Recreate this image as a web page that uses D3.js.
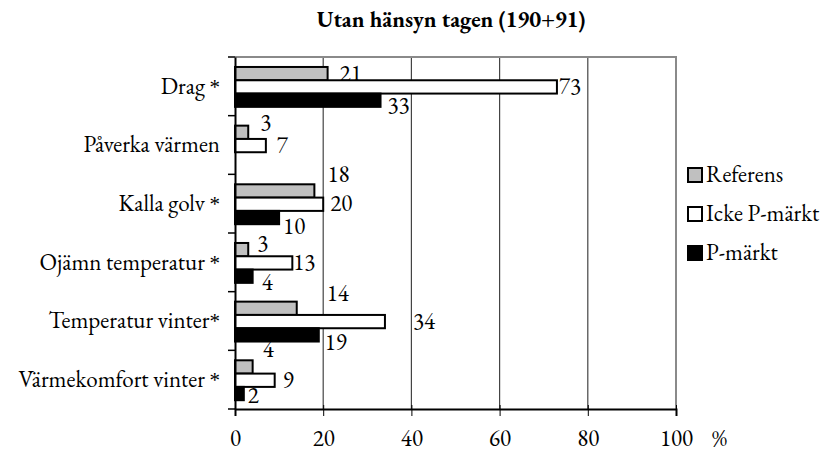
<!DOCTYPE html>
<html>
<head>
<meta charset="utf-8">
<script src="https://cdn.jsdelivr.net/npm/d3@7"></script>
<style>
  body { margin: 0; background: #fff; }
</style>
</head>
<body>
<div id="chart"></div>
<script>
// chart data
var categories = ["Drag *", "Påverka värmen", "Kalla golv *", "Ojämn temperatur *", "Temperatur vinter*", "Värmekomfort vinter *"];
var seriesNames = ["Referens", "Icke P-märkt", "P-märkt"];
var referens = [21, 3, 18, 3, 14, 4];
var ickePmarkt = [73, 7, 20, 13, 34, 9];
var pmarkt = [33, null, 10, 4, 19, 2];
var xTicks = [0, 20, 40, 60, 80, 100];

// label nudges (the original had hand placed labels), [dx, dy] per series/category
var labelNudge = [
    [[12, 0], [12, -10], [13, -16], [9, -6], [30, -15], [10, -17]],
    [[2, 0], [11, 0], [7, -1], [1, 0], [28, 0], [8, 0]],
    [[7, 5], [0, 0], [4, 9], [9, 6], [6, 8], [4, 2]]
];

const W = 827, H = 453;
const plot = {left: 235, right: 676, top: 57, bottom: 409};
const FONT = "EB Garamond, Liberation Serif, serif";
const FS = 23;
var fills = ["#c0c0c0", "#ffffff", "#000000"];
var allSeries = [referens, ickePmarkt, pmarkt];

var svg = d3.select("#chart").append("svg")
    .attr("width", W)
    .attr("height", H)
    .attr("font-family", FONT);

var xScale = d3.scaleLinear().domain([0, 100]).range([plot.left, plot.right]);
var yScale = d3.scaleBand().domain(categories).range([plot.top, plot.bottom]);
var step = yScale.step();
var subScale = d3.scaleBand().domain(d3.range(3)).range([step * 0.17, step * 0.85]);

// title
svg.append("text")
    .attr("x", 451)
    .attr("y", 27)
    .attr("text-anchor", "middle")
    .attr("font-family", FONT)
    .attr("font-weight", "bold")
    .attr("font-size", 22.5)
    .text("Utan hänsyn tagen (190+91)");

// gridlines
svg.append("g").selectAll("line")
    .data(xTicks.filter(d => d > 0 && d < 100))
    .enter().append("line")
    .attr("x1", d => xScale(d)).attr("x2", d => xScale(d))
    .attr("y1", plot.top).attr("y2", plot.bottom)
    .style("stroke", "#444")
    .style("stroke-width", 1.2);

// frame top + right (grey)
svg.append("path")
    .attr("d", "M" + plot.left + "," + plot.top + "H" + plot.right + "V" + plot.bottom)
    .style("fill", "none")
    .style("stroke", "#8a8a8a")
    .style("stroke-width", 2);

// bars and labels, series by series
allSeries.forEach(function(vals, s) {
    var data = categories.map((c, i) => ({cat: c, i: i, v: vals[i]})).filter(d => d.v != null);
    var g = svg.append("g").attr("class", "series-" + s);
    g.selectAll("rect")
        .data(data)
        .enter().append("rect")
        .attr("x", xScale(0))
        .attr("y", d => yScale(d.cat) + subScale(s))
        .attr("width", d => xScale(d.v) - xScale(0))
        .attr("height", subScale.bandwidth())
        .style("fill", fills[s])
        .style("stroke", "#000")
        .style("stroke-width", 2);
    g.selectAll("text")
        .data(data)
        .enter().append("text")
        .attr("x", d => xScale(d.v) + labelNudge[s][d.i][0])
        .attr("y", d => yScale(d.cat) + subScale(s) + subScale.bandwidth() / 2 + labelNudge[s][d.i][1])
        .attr("dy", "0.32em")
        .attr("font-family", FONT)
        .attr("font-size", FS)
        .text(d => d.v);
});

// y axis
var yAxis = d3.axisLeft(yScale).tickSize(0).tickPadding(15);
var yG = svg.append("g")
    .attr("transform", "translate(" + plot.left + ",0)")
    .call(yAxis)
    .attr("font-family", FONT)
    .attr("font-size", FS);
yG.select(".domain").style("stroke", "#000").style("stroke-width", 2);
// the garamond asterisk sits too high, use a times one
yG.selectAll(".tick text")
    .attr("dy", "0.32em")
    .each(function(d) {
        var t = d3.select(this);
        var parts = d.split("*");
        if (parts.length < 2) return;
        t.text(null);
        t.append("tspan").text(parts[0]);
        t.append("tspan").attr("font-family", "Liberation Serif, serif").attr("font-size", 21).text("*");
    });
// category boundary ticks
yG.selectAll("line.bound")
    .data(d3.range(categories.length + 1))
    .enter().append("line")
    .attr("class", "bound")
    .attr("x1", -7).attr("x2", 0)
    .attr("y1", i => plot.top + i * step)
    .attr("y2", i => plot.top + i * step)
    .style("stroke", "#000")
    .style("stroke-width", 1.5);

// x axis
var xAxis = d3.axisBottom(xScale).tickValues(xTicks).tickSize(7);
var xG = svg.append("g")
    .attr("transform", "translate(0," + plot.bottom + ")")
    .call(xAxis)
    .attr("font-family", FONT)
    .attr("font-size", FS);
xG.select(".domain").style("stroke", "#000").style("stroke-width", 2);
xG.selectAll(".tick line").style("stroke", "#000").attr("y1", -4);
xG.selectAll(".tick text").attr("y", 37).attr("dy", 0);

svg.append("text")
    .attr("x", 712)
    .attr("y", plot.bottom + 37)
    .attr("font-family", FONT)
    .attr("font-size", FS)
    .text("%");

// legend
var legend = svg.append("g").selectAll("g")
    .data(seriesNames)
    .enter().append("g")
    .attr("transform", (d, i) => "translate(688," + (168 + i * 39) + ")");
legend.append("rect")
    .attr("width", 14).attr("height", 14)
    .style("fill", (d, i) => fills[i])
    .style("stroke", "#000")
    .style("stroke-width", 2);
legend.append("text")
    .attr("x", 18)
    .attr("y", 7)
    .attr("dy", "0.32em")
    .attr("font-family", FONT)
    .attr("font-size", FS)
    .text(d => d);
</script>
</body>
</html>
